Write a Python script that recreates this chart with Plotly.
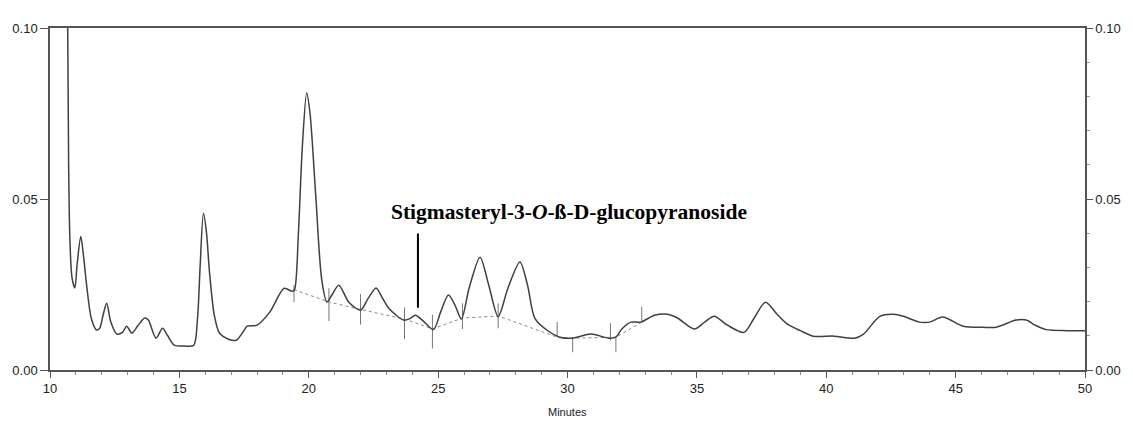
import plotly.graph_objects as go

# Chromatogram trace (minutes, absorbance)
time_min = [10.68, 10.72, 10.77, 10.85, 10.96, 11.05, 11.19, 11.3, 11.42, 11.6, 11.8, 11.92,
            12.05, 12.19, 12.35, 12.58, 12.8, 12.96, 13.17, 13.4, 13.66, 13.8, 14.1, 14.35,
            14.55, 14.8, 15.2, 15.55, 15.7, 15.8, 15.93, 16.05, 16.16, 16.35, 16.55, 16.9,
            17.2, 17.45, 17.62, 18.0, 18.5, 19.05, 19.36, 19.45, 19.6, 19.75, 19.92, 20.05,
            20.27, 20.5, 20.7, 20.9, 21.16, 21.55, 22.0, 22.3, 22.6, 22.85, 23.1, 23.67,
            23.9, 24.12, 24.4, 24.82, 25.1, 25.4, 25.65, 25.9, 26.2, 26.62, 26.95, 27.32,
            27.7, 28.16, 28.45, 28.74, 29.25, 29.7, 30.2, 30.9, 31.6, 31.87, 32.1, 32.45,
            32.83, 33.36, 33.87, 34.25, 34.9, 35.3, 35.67, 36.18, 36.82, 37.2, 37.65, 38.1,
            38.5, 39.0, 39.5, 40.3, 41.1, 41.44, 42.07, 42.6, 42.98, 43.6, 44.0, 44.5,
            45.3, 46.05, 46.57, 47.34, 47.73, 48.1, 48.5, 49.3, 50.0]
absorbance = [0.105, 0.06, 0.038, 0.027, 0.024, 0.031, 0.039, 0.033, 0.0245, 0.015, 0.0117, 0.0122,
              0.016, 0.0195, 0.014, 0.0105, 0.011, 0.0128, 0.0108, 0.013, 0.0152, 0.0146, 0.0093, 0.0122,
              0.010, 0.0073, 0.0070, 0.0072, 0.015, 0.030, 0.0458, 0.040, 0.029, 0.016, 0.0108, 0.009,
              0.0087, 0.011, 0.0128, 0.0131, 0.017, 0.0239, 0.023, 0.0235, 0.040, 0.065, 0.081, 0.075,
              0.051, 0.0265, 0.0199, 0.022, 0.0248, 0.0198, 0.0175, 0.021, 0.024, 0.021, 0.018, 0.0146,
              0.015, 0.016, 0.0145, 0.0118, 0.017, 0.0219, 0.019, 0.0149, 0.024, 0.033, 0.025, 0.0156,
              0.024, 0.0316, 0.025, 0.0151, 0.0114, 0.0096, 0.0093, 0.0105, 0.0093, 0.0096, 0.012, 0.014,
              0.014, 0.016, 0.0163, 0.0152, 0.012, 0.014, 0.0157, 0.0131, 0.011, 0.015, 0.0198, 0.0163,
              0.0134, 0.0115, 0.0099, 0.0099, 0.0093, 0.0105, 0.0157, 0.0163, 0.0157, 0.014, 0.014, 0.0155,
              0.0128, 0.0125, 0.0125, 0.0146, 0.0146, 0.013, 0.0118, 0.0115, 0.0115]

# Integration baseline (dashed)
base_t = [19.43, 20.78, 22.0, 23.7, 24.78, 25.94, 27.32, 29.6, 30.2, 31.87, 32.87]
base_v = [0.0235, 0.0199, 0.0177, 0.0149, 0.0120, 0.0152, 0.0158, 0.0096, 0.0093, 0.0096, 0.0140]

# Integration event marks (short vertical ticks)
mark_t = [19.43, 20.78, 22.0, 23.7, 24.78, 25.94, 27.32, 29.6, 30.2, 31.66, 31.87, 32.87]
mark_lo = [0.0198, 0.0143, 0.0133, 0.0090, 0.0063, 0.0120, 0.0122, 0.0096, 0.0052, 0.0087, 0.0052, 0.0141]
mark_hi = [0.0248, 0.0239, 0.0222, 0.0183, 0.0162, 0.0195, 0.0195, 0.0140, 0.0096, 0.0137, 0.0096, 0.0185]

# Annotation pointer
label_text = "<b>Stigmasteryl-3-<i>O</i>-ß-D-glucopyranoside</b>"
label_t = 23.12
label_v = 0.0462
pointer_t = 24.22
pointer_v = [0.0399, 0.0182]

y_ticks = [0.0, 0.05, 0.10]
y_ticklabels = ["0.00", "0.05", "0.10"]
x_ticks = [10, 15, 20, 25, 30, 35, 40, 45, 50]

mx, my = [], []
for t, lo, hi in zip(mark_t, mark_lo, mark_hi):
    mx += [t, t, None]
    my += [lo, hi, None]

fig = go.Figure()
fig.add_trace(go.Scatter(x=base_t, y=base_v, mode="lines",
                         line=dict(color="#8a8a8a", width=1, dash="dot"),
                         hoverinfo="skip", showlegend=False))
fig.add_trace(go.Scatter(x=mx, y=my, mode="lines",
                         line=dict(color="#777777", width=1),
                         hoverinfo="skip", showlegend=False))
fig.add_trace(go.Scatter(x=time_min, y=absorbance, mode="lines",
                         line=dict(color="#404040", width=1.5, shape="spline", smoothing=0.8),
                         showlegend=False))
fig.add_trace(go.Scatter(x=[pointer_t, pointer_t], y=pointer_v, mode="lines",
                         line=dict(color="black", width=2),
                         hoverinfo="skip", showlegend=False))
fig.add_trace(go.Scatter(x=[30], y=[0.05], mode="markers", marker=dict(opacity=0),
                         yaxis="y2", hoverinfo="skip", showlegend=False))

tickfont = dict(family="Liberation Sans, Arial", size=13, color="#222222")

fig.update_layout(
    width=1133, height=421,
    margin=dict(l=50, r=44, t=28, b=51),
    paper_bgcolor="white", plot_bgcolor="white",
    xaxis=dict(range=[10, 50], tickvals=x_ticks, ticktext=[str(v) for v in x_ticks],
               showgrid=False, zeroline=False, showline=True, linecolor="#555555",
               linewidth=1.5, mirror=True, ticks="outside", ticklen=6, tickcolor="#555555",
               tickfont=tickfont,
               minor=dict(dtick=1, ticks="outside", ticklen=3, tickcolor="#888888")),
    yaxis=dict(range=[0, 0.10], tickvals=y_ticks, ticktext=y_ticklabels,
               showgrid=False, zeroline=False, showline=True, linecolor="#555555",
               linewidth=1.5, ticks="outside", ticklen=8, tickcolor="#555555",
               tickfont=tickfont),
    yaxis2=dict(range=[0, 0.10], overlaying="y", side="right", tickvals=y_ticks,
                ticktext=y_ticklabels, showgrid=False, zeroline=False, showline=True,
                linecolor="#555555", linewidth=1.5, ticks="outside", ticklen=6,
                tickcolor="#555555", tickfont=tickfont,
                minor=dict(dtick=0.01, ticks="outside", ticklen=3, tickcolor="#999999")),
    annotations=[
        dict(x=label_t, y=label_v, xref="x", yref="y", text=label_text, showarrow=False,
             xanchor="left", yanchor="middle",
             font=dict(family="Liberation Serif, Times New Roman", size=21.5, color="black")),
        dict(x=30, y=-0.123, xref="x", yref="paper", text="Minutes", showarrow=False,
             xanchor="center", yanchor="middle",
             font=dict(family="Liberation Sans, Arial", size=11, color="#222222")),
    ],
)

fig.write_html("out.html")
